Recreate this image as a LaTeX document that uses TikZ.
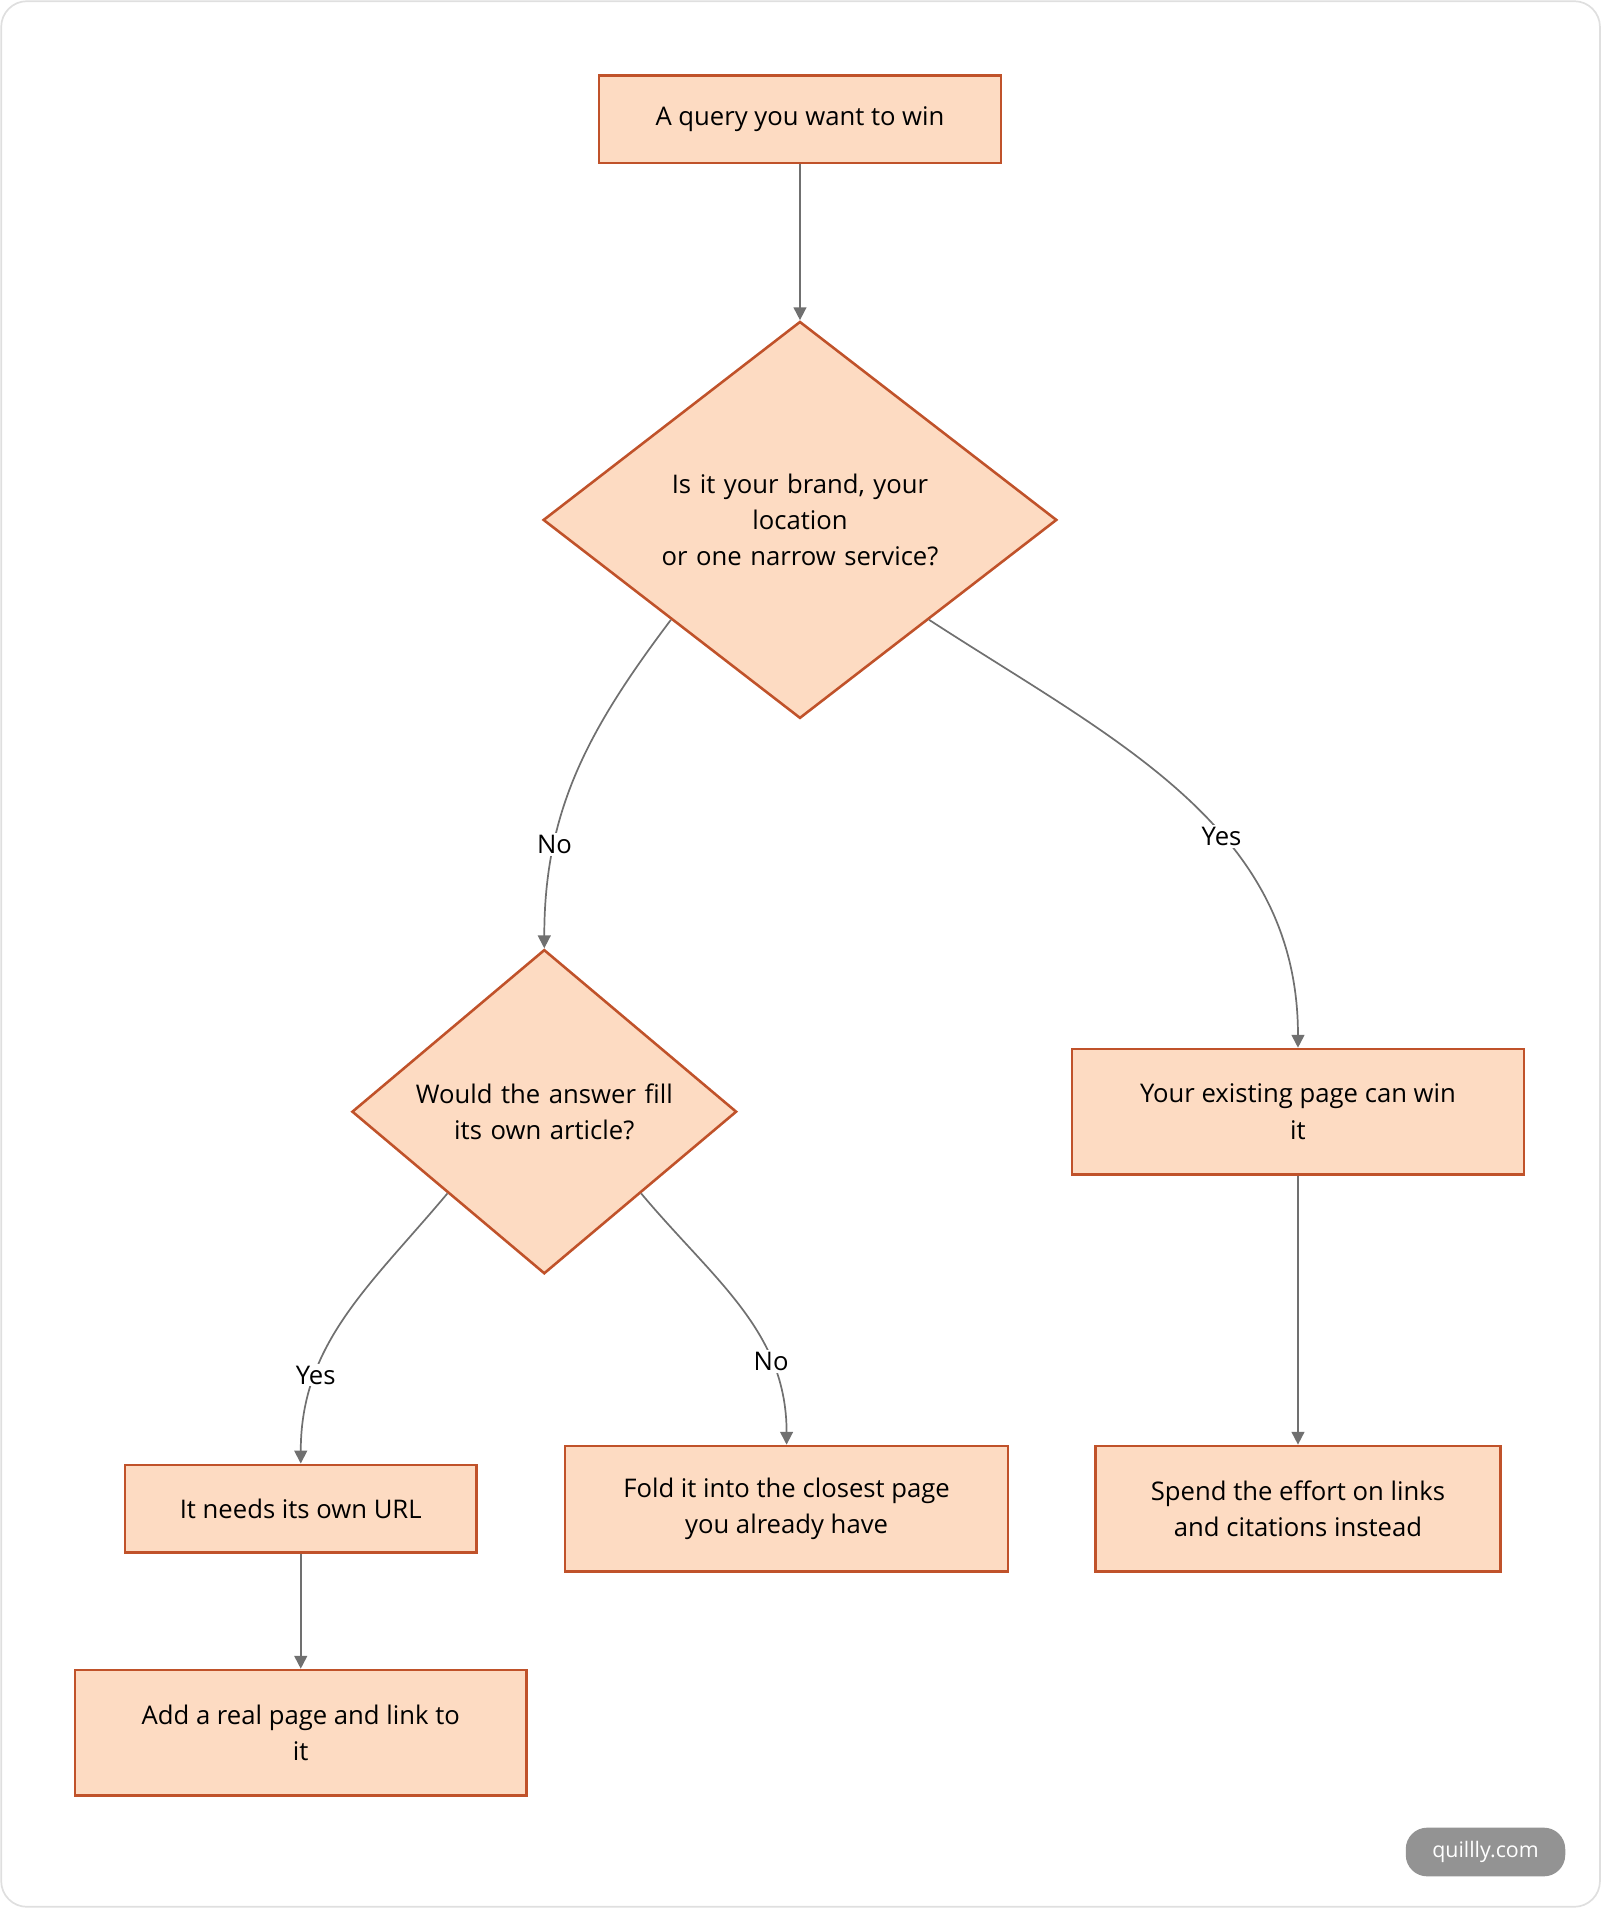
\documentclass[tikz,border=0pt]{standalone}
\usepackage{fontspec}
\setmainfont{Open Sans}
\usetikzlibrary{arrows.meta,shapes.geometric}

\definecolor{boxfill}{HTML}{FDDBC2}
\definecolor{boxline}{HTML}{C0522A}
\definecolor{edgegray}{HTML}{707070}

\tikzset{
  stepbox/.style={draw=boxline,fill=boxfill,line width=1.2pt,align=center,
    font=\fontsize{12}{17}\selectfont,inner sep=0pt},
  choice/.style={diamond,draw=boxline,fill=boxfill,line width=1.2pt,align=center,
    font=\fontsize{12}{17}\selectfont,inner sep=0pt,aspect=1},
  flow/.style={draw=edgegray,line width=0.8pt,-{Triangle[length=6pt,width=6pt]}},
  lbl/.style={fill=white,inner sep=1pt,font=\fontsize{12}{14}\selectfont}
}

\begin{document}
\begin{tikzpicture}[x=0.02cm,y=-0.02cm]
\useasboundingbox (0,0) rectangle (1315,1567);
\draw[gray!25,line width=0.8pt,rounded corners=12pt] (1,1) rectangle (1314,1566);

% nodes
\node[stepbox,minimum width=6.6cm,minimum height=1.44cm] (query) at (657,98) {A query you want to win};
\node[choice,minimum width=8.44cm,text width=5cm] (brand) at (657,427) {Is it your brand, your\\location\\or one narrow service?};
\node[choice,minimum width=6.32cm,text width=4.4cm] (article) at (447,913) {Would the answer fill\\its own article?};
\node[stepbox,minimum width=7.42cm,minimum height=2.06cm] (existing) at (1066,913) {Your existing page can win\\it};
\node[stepbox,minimum width=5.78cm,minimum height=1.44cm] (url) at (247,1239) {It needs its own URL};
\node[stepbox,minimum width=7.28cm,minimum height=2.06cm] (fold) at (646,1239) {Fold it into the closest page\\you already have};
\node[stepbox,minimum width=6.66cm,minimum height=2.06cm] (spend) at (1066,1239) {Spend the effort on links\\and citations instead};
\node[stepbox,minimum width=7.42cm,minimum height=2.06cm] (addpage) at (247,1423) {Add a real page and link to\\it};

% connectors
\draw[flow] (query) -- (brand);
\draw[flow] (brand.south west) to[out=-127,in=90] node[lbl,pos=0.72]{No} (article.north);
\draw[flow] (brand.south east) to[out=-33,in=90] node[lbl,pos=0.6]{Yes} (existing.north);
\draw[flow] (article.south west) to[out=-130,in=90] node[lbl,pos=0.72]{Yes} (url.north);
\draw[flow] (article.south east) to[out=-50,in=90] node[lbl,pos=0.72]{No} (fold.north);
\draw[flow] (existing) -- (spend);
\draw[flow] (url) -- (addpage);

% badge
\node[fill=gray!85,text=white,rounded corners=10pt,minimum width=2.62cm,minimum height=0.8cm,
  font=\fontsize{10}{12}\selectfont] (badge) at (1220,1521) {quillly.com};
\end{tikzpicture}
\end{document}
